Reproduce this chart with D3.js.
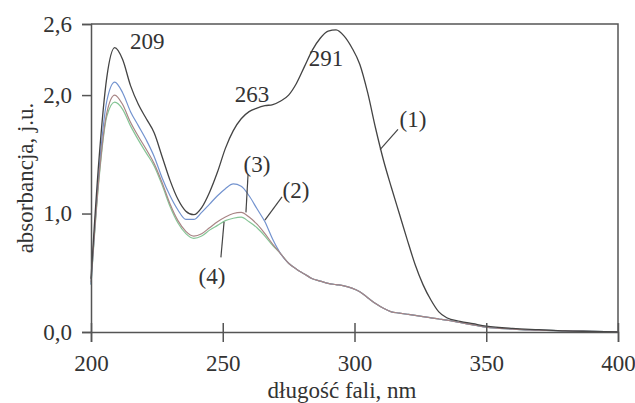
<!DOCTYPE html>
<html>
  <head>
    <meta charset="utf-8">
    <title>Widma absorpcyjne</title>
    <script src="https://d3js.org/d3.v7.min.js"></script>
    <style>
      body { margin: 0; background: #fff; }
      svg { display: block; }
      text { font-family: "Liberation Serif", "DejaVu Serif", serif; fill: #333; }
    </style>
  </head>
  <body>
    <div id="chart"></div>
    <script>
      // wavelength grid, nm
      const wavelengths = [200, 203, 206, 209, 212, 215, 218, 221, 224, 227, 230, 233, 236, 239,
        242, 245, 248, 251, 254, 257, 260, 263, 266, 269,
        272, 275, 278, 281, 284, 287, 290, 293, 296, 299, 302, 305, 308, 311, 314, 317, 320,
        323, 326, 329, 332, 335, 340, 345, 350, 360, 370, 380, 390, 400];

      // curve (1)
      const curve1 = [0.45, 1.45, 2.15, 2.40, 2.30, 2.08, 1.92, 1.80, 1.68, 1.48, 1.28, 1.12, 1.02, 0.99,
        1.05, 1.18, 1.35, 1.55, 1.70, 1.80, 1.86, 1.89, 1.91, 1.92,
        1.95, 2.00, 2.10, 2.24, 2.38, 2.48, 2.54, 2.55, 2.50, 2.40, 2.26, 2.02, 1.72, 1.45, 1.22, 1.00, 0.78,
        0.57, 0.40, 0.27, 0.17, 0.12, 0.09, 0.07, 0.05, 0.03, 0.02, 0.01, 0.005, 0.0];

      // curves (2)-(4) share the same tail from 272 nm on
      const sharedTail = [0.66, 0.58, 0.53, 0.49, 0.45, 0.43, 0.41, 0.40, 0.39, 0.37, 0.34, 0.29, 0.24, 0.20, 0.17, 0.16, 0.15,
        0.14, 0.13, 0.12, 0.11, 0.10, 0.08, 0.06, 0.04, 0.025, 0.015, 0.01, 0.005, 0.0];
      const curve2 = [0.42, 1.30, 1.85, 2.00, 1.92, 1.77, 1.65, 1.54, 1.42, 1.26, 1.08, 0.94, 0.85, 0.81,
        0.83, 0.88, 0.93, 0.97, 1.00, 1.01, 0.97, 0.91, 0.83, 0.74].concat(sharedTail);
      const curve3 = [0.40, 1.35, 1.95, 2.11, 2.02, 1.86, 1.74, 1.62, 1.48, 1.30, 1.15, 1.03, 0.95, 0.95,
        1.01, 1.08, 1.15, 1.21, 1.25, 1.23, 1.15, 1.04, 0.93, 0.78].concat(sharedTail);
      const curve4 = [0.40, 1.28, 1.82, 1.94, 1.88, 1.74, 1.62, 1.51, 1.40, 1.24, 1.06, 0.92, 0.83, 0.79,
        0.81, 0.86, 0.90, 0.94, 0.96, 0.97, 0.93, 0.88, 0.81, 0.73].concat(sharedTail);

      const seriesNames = ["(4)", "(3)", "(2)", "(1)"];
      const seriesValues = [curve4, curve3, curve2, curve1];
      const seriesColors = ["#86c596", "#7393cf", "#a88585", "#444"];

      const xTicks = [200, 250, 300, 350, 400];
      const yTicks = [0, 1.0, 2.0, 2.6];

      // peak labels and curve labels: [text, nm, value]
      const peakLabels = [["209", 221.3, 2.46], ["263", 261.1, 2.01], ["291", 289.2, 2.31]];
      const curveLabels = [["(1)", 322.2, 1.80], ["(2)", 277.8, 1.20], ["(3)", 263.0, 1.42], ["(4)", 245.9, 0.47]];
      // leader lines: [nm1, v1, nm2, v2]
      const leaders = [[316.5, 1.71, 309.7, 1.54], [272.5, 1.14, 266.0, 0.945],
        [259.6, 1.33, 258.8, 1.01], [249.3, 0.63, 250.5, 0.93]];

      const margin = { top: 24, right: 17, bottom: 71, left: 91 };
      const width = 635 - margin.left - margin.right;
      const height = 403 - margin.top - margin.bottom;

      const svg = d3.select("#chart").append("svg")
        .attr("width", 635).attr("height", 403)
        .append("g")
        .attr("transform", `translate(${margin.left}, ${margin.top})`);

      const x = d3.scaleLinear().domain([200, 400]).range([0, width]);
      const y = d3.scaleLinear().domain([0, 2.6]).range([height, 0]);
      const fmt = d3.format(".1f");

      // frame (top and right)
      svg.append("path")
        .attr("d", `M0,0H${width}V${height}`)
        .attr("fill", "none").attr("stroke", "#555").attr("stroke-width", 1.5);

      // curves
      const line = d3.line()
        .x((d) => x(d[0]))
        .y((d) => y(d[1]))
        .curve(d3.curveMonotoneX);

      svg.selectAll(".curve")
        .data(seriesValues)
        .enter()
        .append("path")
        .attr("class", "curve")
        .attr("d", (vals) => line(wavelengths.map((w, i) => [w, vals[i]])))
        .attr("fill", "none")
        .attr("stroke", (d, i) => seriesColors[i])
        .attr("stroke-width", (d, i) => (i === 3 ? 1.3 : 1.2));

      // x axis (ticks cross the axis line)
      svg.append("g")
        .attr("transform", `translate(0, ${height})`)
        .call(d3.axisBottom(x).tickValues(xTicks).tickSize(10).tickPadding(13).tickFormat(d3.format("d")));
      svg.append("g")
        .attr("transform", `translate(0, ${height})`)
        .call(d3.axisBottom(x).tickValues(xTicks).tickSize(-9).tickFormat(""))
        .call((g) => g.select(".domain").remove());

      // y axis
      svg.append("g")
        .call(d3.axisLeft(y).tickValues(yTicks).tickSize(9).tickPadding(10)
          .tickFormat((d) => fmt(d).replace(".", ",")));

      svg.selectAll(".tick line, .domain")
        .attr("stroke", "#555").attr("stroke-width", 1.5);
      svg.selectAll(".tick text")
        .attr("font-size", 23)
        .attr("fill", "#333")
        .style("font-family", "Liberation Serif");

      // leader lines
      svg.selectAll(".leader")
        .data(leaders)
        .enter()
        .append("line")
        .attr("class", "leader")
        .attr("x1", (d) => x(d[0])).attr("y1", (d) => y(d[1]))
        .attr("x2", (d) => x(d[2])).attr("y2", (d) => y(d[3]))
        .attr("stroke", "#444").attr("stroke-width", 1.2);

      // annotations
      svg.selectAll(".note")
        .data(peakLabels.concat(curveLabels))
        .enter()
        .append("text")
        .attr("class", "note")
        .attr("x", (d) => x(d[1]))
        .attr("y", (d) => y(d[2]))
        .attr("dy", "0.35em")
        .attr("text-anchor", "middle")
        .attr("font-size", 23)
        .text((d) => d[0]);

      // axis titles
      svg.append("text")
        .attr("x", 342 - margin.left)
        .attr("y", 398 - margin.top)
        .attr("text-anchor", "middle")
        .attr("font-size", 23)
        .text("długość fali, nm");

      svg.append("text")
        .attr("transform", "rotate(-90)")
        .attr("x", -(178 - margin.top))
        .attr("y", 25 - margin.left)
        .attr("dy", "0.35em")
        .attr("text-anchor", "middle")
        .attr("font-size", 23)
        .text("absorbancja, j.u.");
    </script>
  </body>
</html>
